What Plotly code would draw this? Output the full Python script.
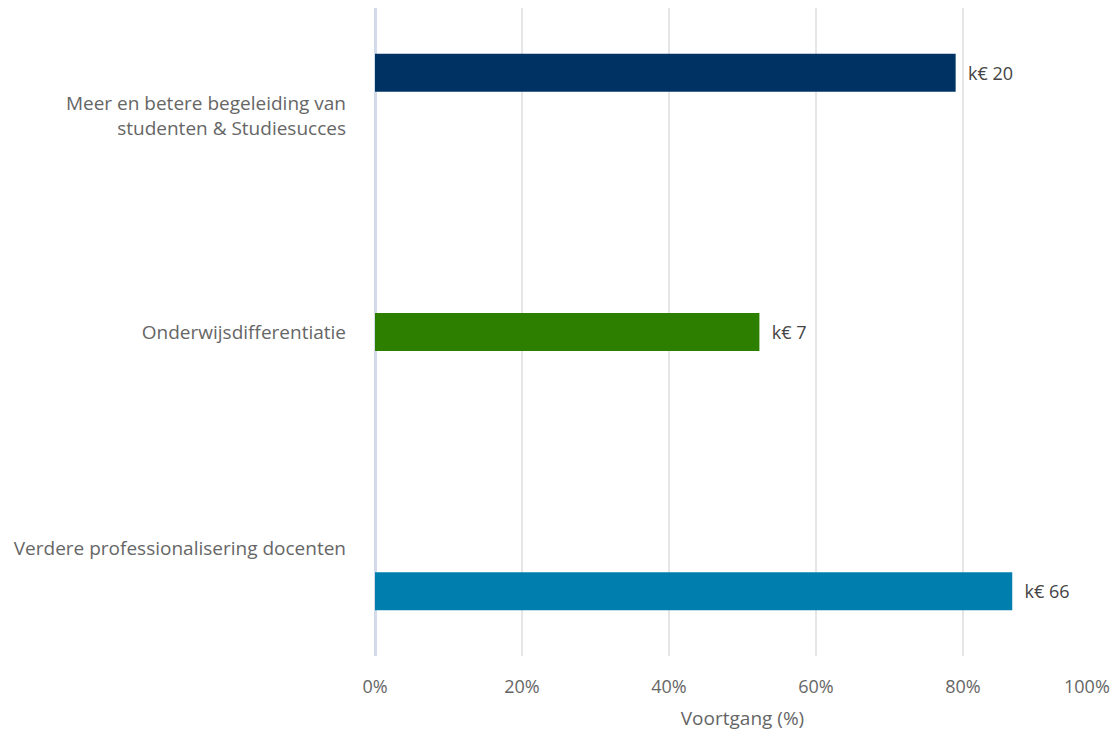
import plotly.graph_objects as go

# Categories (top to bottom) and progress per programme line
categories = [
    "Meer en betere begeleiding van<br>studenten & Studiesucces",
    "Onderwijsdifferentiatie",
    "Verdere professionalisering docenten",
]
progress = [79.0, 52.3, 86.7]          # Voortgang (%)
budget_labels = ["k€ 20", "k€ 7", "k€ 66"]
colors = ["#003363", "#2d7f00", "#007fae"]

x_ticks = [0, 20, 40, 60, 80, 100]
x_ticktext = ["0%", "20%", "40%", "60%", "80%", "100%"]

FONT = "Open Sans"
GREY = "#666666"
SIZE = 19

fig = go.Figure()
for i, cat in enumerate(categories):
    xs = [progress[i] if j == i else None for j in range(len(categories))]
    txt = ["\u00a0\u00a0" + budget_labels[i] if j == i else "" for j in range(len(categories))]
    fig.add_trace(go.Bar(
        y=categories,
        x=xs,
        orientation="h",
        marker=dict(color=colors[i], line=dict(width=0)),
        text=txt,
        textposition="outside",
        textfont=dict(family=FONT, size=SIZE - 1, color="#444444"),
        cliponaxis=False,
        showlegend=False,
        hoverinfo="x+y",
    ))

# Last tick label sits at the right edge of the figure; right-align it there
edge_ticks = [x_ticks[-1]]
edge_text = [x_ticktext[-1]]
axis_ticktext = x_ticktext[:-1] + [""]

for xv, t in zip(edge_ticks, edge_text):
    fig.add_annotation(
        x=xv, xref="x", y=0, yref="paper",
        text=t, showarrow=False,
        xanchor="right", yanchor="top", yshift=-16, xshift=2,
        font=dict(family=FONT, size=SIZE - 1, color=GREY),
    )

fig.update_layout(
    width=1118,
    height=740,
    barmode="group",
    bargap=0.4,
    bargroupgap=0.12,
    plot_bgcolor="white",
    paper_bgcolor="white",
    margin=dict(l=375, r=8, t=8, b=84),
    font=dict(family=FONT, size=SIZE, color=GREY),
    xaxis=dict(
        range=[0, 100],
        tickvals=x_ticks,
        ticktext=axis_ticktext,
        showgrid=True,
        gridcolor="#e6e6e6",
        gridwidth=2,
        zeroline=True,
        zerolinecolor="#d3dbea",
        zerolinewidth=3,
        showline=False,
        ticks="",
        ticklabelstandoff=18,
        tickfont=dict(family=FONT, size=SIZE - 1, color=GREY),
        title=dict(text="Voortgang (%)", font=dict(family=FONT, size=SIZE, color=GREY), standoff=14),
    ),
    yaxis=dict(
        categoryorder="array",
        categoryarray=categories,
        autorange="reversed",
        showgrid=False,
        zeroline=False,
        showline=False,
        ticks="",
        ticklabelstandoff=28,
        tickfont=dict(family=FONT, size=SIZE, color=GREY),
    ),
)

fig.write_html("out.html")
